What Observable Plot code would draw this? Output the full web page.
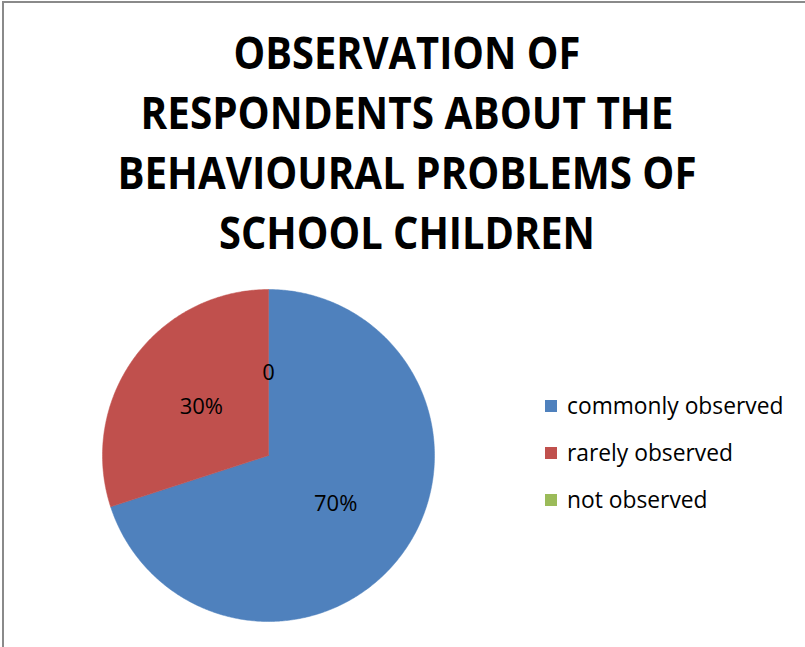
<!DOCTYPE html>
<html>
<head>
<meta charset="utf-8">
<script src="https://cdn.jsdelivr.net/npm/d3@7"></script>
<script src="https://cdn.jsdelivr.net/npm/@observablehq/plot@0.6"></script>
<style>
  html, body { margin: 0; padding: 0; background: #fff; overflow: hidden; }
  #frame { position: absolute; left: 2px; top: 1px; width: 820px; height: 660px;
           border-left: 2px solid #8a8a8a; border-top: 2px solid #8a8a8a; box-sizing: border-box; }
  #title { position: absolute; left: 0; top: 0; }
  #chart { position: absolute; left: 0; top: 270px; }
  #legend { position: absolute; left: 545px; top: 390px; }
  .lg-swatches { font-family: "Open Sans", sans-serif; font-size: 22.8px; color: #000; }
  .lg-swatch { margin: 0 0 16px 0 !important; padding: 0 !important; line-height: 31px; display: flex; align-items: center; }
  .lg-swatch svg { margin-right: 10px !important; }
</style>
</head>
<body>
<div id="frame"></div>
<svg id="title" width="805" height="270"></svg>
<div id="chart"></div>
<div id="legend"></div>
<script>
// ---- data ----
const categories = ["commonly observed", "rarely observed", "not observed"];
const values = [70, 30, 0];
const labels = ["70%", "30%", "0"];
const colors = ["#4F81BD", "#C0504D", "#9BBB59"];
const titleLines = ["OBSERVATION OF", "RESPONDENTS ABOUT THE", "BEHAVIOURAL PROBLEMS OF", "SCHOOL CHILDREN"];

// ---- title ----
const titleWidths = [347, 533, 579, 376];
const titleSvg = d3.select("#title");
titleLines.forEach((t, i) => {
  titleSvg.append("text")
    .attr("x", 407).attr("y", 69 + i * 60)
    .attr("text-anchor", "middle")
    .attr("font-family", "'Open Sans', sans-serif")
    .attr("font-weight", 700)
    .attr("font-size", 45)
    .attr("textLength", titleWidths[i])
    .attr("lengthAdjust", "spacingAndGlyphs")
    .attr("fill", "#000")
    .text(t);
});

// ---- pie geometry from values ----
const pie = d3.pie().sort(null).value(d => d)(values);
const polys = [];
pie.forEach((s, i) => {
  if (s.endAngle - s.startAngle <= 0) return;
  polys.push({key: categories[i], px: 0, py: 0});
  const n = Math.max(2, Math.ceil((s.endAngle - s.startAngle) / 0.01));
  for (let k = 0; k <= n; k++) {
    const a = s.startAngle + (s.endAngle - s.startAngle) * k / n;
    polys.push({key: categories[i], px: Math.sin(a), py: Math.cos(a)});
  }
  polys.push({key: categories[i], px: 0, py: 0});
});
const labelData = pie.map((s, i) => {
  const a = (s.startAngle + s.endAngle) / 2;
  return {label: labels[i], px: 0.5 * Math.sin(a), py: 0.5 * Math.cos(a)};
});

const cx = 268, cy = 185, r = 166;
const chart = Plot.plot({
  width: 805,
  height: 377,
  margin: 0,
  x: {domain: [-1, 1], range: [cx - r, cx + r], axis: null},
  y: {domain: [-1, 1], range: [cy + r, cy - r], axis: null},
  color: {domain: categories, range: colors},
  style: {background: "transparent"},
  marks: [
    Plot.line(polys, {x: "px", y: "py", z: "key", fill: "key", stroke: "key", strokeWidth: 0.5, curve: "linear"}),
    Plot.text(labelData, {x: "px", y: "py", text: "label", fontSize: 22, fontFamily: "Open Sans, sans-serif", fill: "#000"})
  ]
});
document.getElementById("chart").appendChild(chart);

const legend = Plot.legend({
  color: {domain: categories, range: colors},
  legend: "swatches",
  columns: 1,
  swatchSize: 12,
  className: "lg"
});
document.getElementById("legend").appendChild(legend);
</script>
</body>
</html>
